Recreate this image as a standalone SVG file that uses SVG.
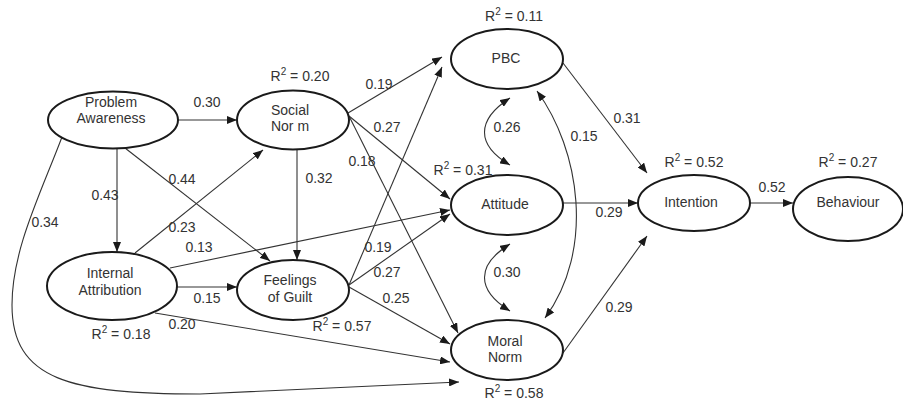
<svg xmlns="http://www.w3.org/2000/svg" width="903" height="403" viewBox="0 0 903 403">
<defs>
<marker id="ah" markerUnits="userSpaceOnUse" markerWidth="10" markerHeight="8" refX="10" refY="4" orient="auto-start-reverse">
<path d="M0,0 L10,4 L0,8 z" fill="#1a1a1a"/>
</marker>
<style>
.n{fill:#fff;stroke:#1a1a1a;stroke-width:2}
.t{font-family:"Liberation Sans",Arial,sans-serif;font-size:14px;fill:#333;text-anchor:middle}
.s{font-size:10px}
.c{fill:none;stroke:#333;stroke-width:1.1;marker-end:url(#ah)}
.d{fill:none;stroke:#333;stroke-width:1.1;marker-start:url(#ah);marker-end:url(#ah)}
</style>
</defs>
<rect width="903" height="403" fill="#fff"/>
<g id="connectors">
<path class="c" d="M178,120 L237,120"/>
<path class="c" d="M117,149 L117,252"/>
<path class="c" d="M125,148 L270,261"/>
<path class="c" d="M62,137 C40,195 12,250 12,305 C12,380 70,394 200,394 L459,382"/>
<path class="c" d="M135,253 L263,150"/>
<path class="c" d="M170,268 L450,210"/>
<path class="c" d="M177,287 L237,287"/>
<path class="c" d="M155,313 L450,362"/>
<path class="c" d="M297,149 L297,260"/>
<path class="c" d="M348,113 L442,57"/>
<path class="c" d="M349,116 L450,199"/>
<path class="c" d="M349,116 L458,333"/>
<path class="c" d="M349,285 L442,67"/>
<path class="c" d="M349,285 L450,214"/>
<path class="c" d="M349,287 L450,344"/>
<path class="c" d="M563,203 L638,203"/>
<path class="c" d="M563,63 L647,173"/>
<path class="c" d="M563,353 L647,236"/>
<path class="c" d="M750,203 L793,203"/>
<path class="d" d="M510,98 C476,120 476,145 510,165"/>
<path class="d" d="M510,244 C476,265 476,290 510,311"/>
<path class="d" d="M537,91 C580,150 595,250 545,318"/>
</g>
<g id="edge-labels" class="t">
<text x="207" y="107">0.30</text>
<text x="105" y="200">0.43</text>
<text x="182" y="184">0.44</text>
<text x="45" y="227">0.34</text>
<text x="182" y="232">0.23</text>
<text x="199" y="252">0.13</text>
<text x="207" y="303">0.15</text>
<text x="182" y="329">0.20</text>
<text x="319" y="183">0.32</text>
<text x="379" y="89">0.19</text>
<text x="387" y="132">0.27</text>
<text x="362" y="166">0.18</text>
<text x="378" y="252">0.19</text>
<text x="387" y="277">0.27</text>
<text x="396" y="303">0.25</text>
<text x="507" y="132">0.26</text>
<text x="584" y="141">0.15</text>
<text x="627" y="123">0.31</text>
<text x="609" y="217">0.29</text>
<text x="507" y="277">0.30</text>
<text x="619" y="312">0.29</text>
<text x="772" y="192">0.52</text>
</g>
<g id="problem-awareness">
<ellipse class="n" cx="113" cy="120" rx="65" ry="28.5"/>
<text class="t" x="111" y="107">Problem</text>
<text class="t" x="111" y="123">Awareness</text>
</g>
<g id="social-norm">
<ellipse class="n" cx="293" cy="120" rx="56" ry="29.5"/>
<text class="t" x="290" y="115">Social</text>
<text class="t" x="290" y="131">Nor m</text>
<text class="t" x="300" y="81">R<tspan class="s" dy="-6">2</tspan><tspan dy="6"> = 0.20</tspan></text>
</g>
<g id="internal-attribution">
<ellipse class="n" cx="112" cy="286" rx="65" ry="34"/>
<text class="t" x="110" y="278">Internal</text>
<text class="t" x="110" y="295">Attribution</text>
<text class="t" x="121" y="339">R<tspan class="s" dy="-6">2</tspan><tspan dy="6"> = 0.18</tspan></text>
</g>
<g id="feelings-of-guilt">
<ellipse class="n" cx="293" cy="290" rx="56" ry="30"/>
<text class="t" x="290" y="285">Feelings</text>
<text class="t" x="290" y="302">of Guilt</text>
<text class="t" x="342" y="331">R<tspan class="s" dy="-6">2</tspan><tspan dy="6"> = 0.57</tspan></text>
</g>
<g id="pbc">
<ellipse class="n" cx="507" cy="59" rx="56" ry="30"/>
<text class="t" x="506" y="63">PBC</text>
<text class="t" x="514" y="21">R<tspan class="s" dy="-6">2</tspan><tspan dy="6"> = 0.11</tspan></text>
</g>
<g id="attitude">
<ellipse class="n" cx="507" cy="205" rx="56" ry="30"/>
<text class="t" x="505" y="209">Attitude</text>
<text class="t" x="463" y="175">R<tspan class="s" dy="-6">2</tspan><tspan dy="6"> = 0.31</tspan></text>
</g>
<g id="moral-norm">
<ellipse class="n" cx="507" cy="350" rx="56" ry="30"/>
<text class="t" x="505" y="346">Moral</text>
<text class="t" x="505" y="362">Norm</text>
<text class="t" x="514" y="398">R<tspan class="s" dy="-6">2</tspan><tspan dy="6"> = 0.58</tspan></text>
</g>
<g id="intention">
<ellipse class="n" cx="694" cy="203" rx="56" ry="28"/>
<text class="t" x="691" y="207">Intention</text>
<text class="t" x="694" y="167">R<tspan class="s" dy="-6">2</tspan><tspan dy="6"> = 0.52</tspan></text>
</g>
<g id="behaviour">
<ellipse class="n" cx="848" cy="209" rx="55" ry="32"/>
<text class="t" x="848" y="207">Behaviour</text>
<text class="t" x="848" y="167">R<tspan class="s" dy="-6">2</tspan><tspan dy="6"> = 0.27</tspan></text>
</g>
</svg>
